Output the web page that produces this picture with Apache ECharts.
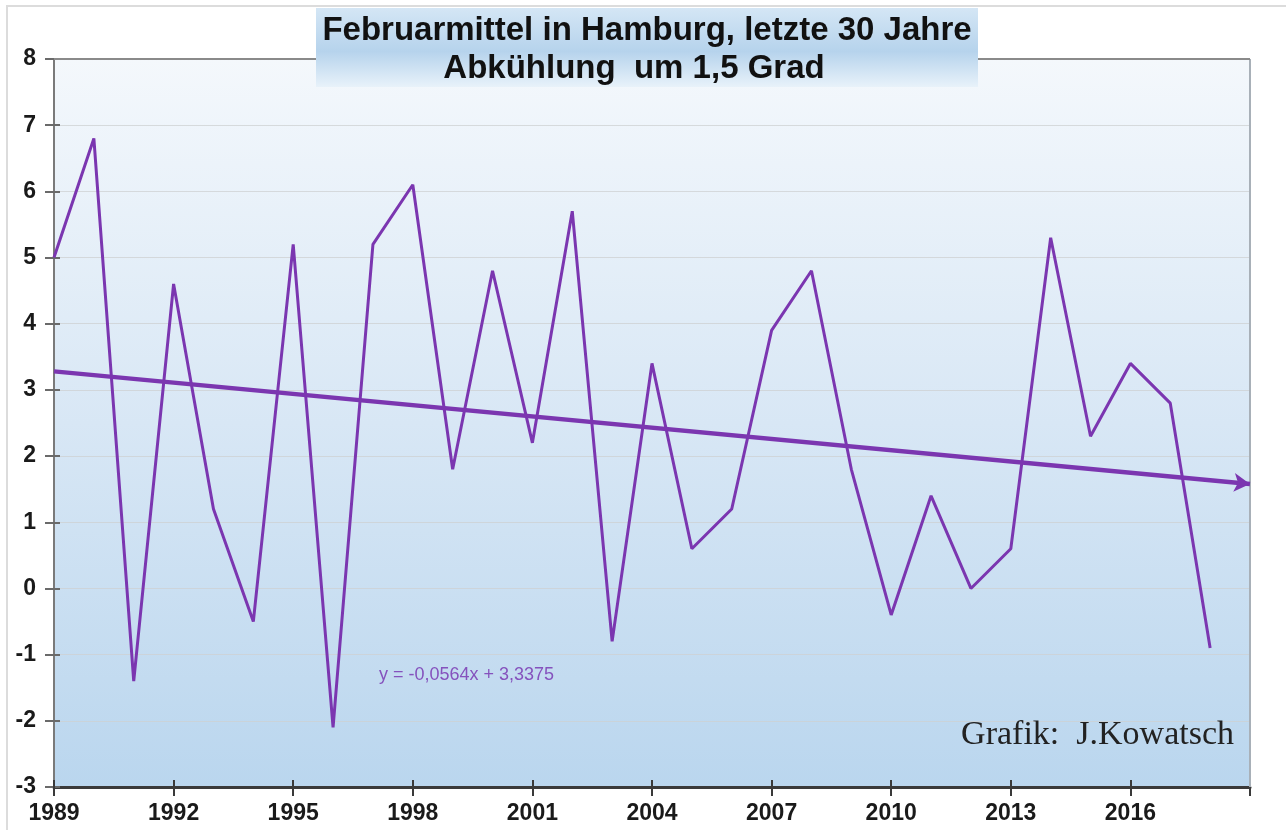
<!DOCTYPE html>
<html>
<head>
<meta charset="utf-8">
<script src="https://cdn.jsdelivr.net/npm/echarts@6/dist/echarts.min.js"></script>
<style>
html,body{margin:0;padding:0;background:#fff;}
#chart{width:1286px;height:830px;}
</style>
</head>
<body>
<div id="chart"></div>
<script>
// ---- data ----
const years = [1989,1990,1991,1992,1993,1994,1995,1996,1997,1998,1999,2000,2001,2002,2003,2004,2005,2006,2007,2008,2009,2010,2011,2012,2013,2014,2015,2016,2017,2018];
const februaryMean = [5.0,6.8,-1.4,4.6,1.2,-0.5,5.2,-2.1,5.2,6.1,1.8,4.8,2.2,5.7,-0.8,3.4,0.6,1.2,3.9,4.8,1.8,-0.4,1.4,0.0,0.6,5.3,2.3,3.4,2.8,-0.9];
const trendStart = [1989, 3.28];
const trendEnd = [2019, 1.58];
const titleLines = ['Februarmittel in Hamburg, letzte 30 Jahre', 'Abkühlung  um 1,5 Grad'];
const equationText = 'y = -0,0564x + 3,3375';
const creditText = 'Grafik:  J.Kowatsch';
const xMin = 1989, xMax = 2019, xStep = 3;
const yMin = -3, yMax = 8, yStep = 1;

const chart = echarts.init(document.getElementById('chart'));
const purple = '#7b36b0';
const labelFont = {fontFamily:'Liberation Sans, Arial, sans-serif', fontWeight:'bold', fontSize:23, color:'#1a1a1a'};

chart.setOption({
  animation:false,
  backgroundColor:'#ffffff',
  grid:{left:54, right:36, top:59, bottom:43, show:true, borderWidth:0,
    backgroundColor:{type:'linear',x:0,y:0,x2:0,y2:1,colorStops:[
      {offset:0,color:'#f4f8fc'},{offset:0.5,color:'#d8e7f5'},{offset:1,color:'#bad6ee'}]}},
  xAxis:[{
    type:'value', min:xMin, max:xMax, interval:xStep,
    axisLine:{show:true, onZero:false, lineStyle:{color:'#3a3a3a', width:3}},
    axisTick:{show:true, length:9, lineStyle:{color:'#3a3a3a', width:2}},
    axisLabel:Object.assign({margin:15, formatter:v => v === xMax ? '' : String(v)}, labelFont),
    splitLine:{show:false}
  },{
    type:'value', min:xMin, max:xMax, interval:xStep, position:'bottom',
    axisLine:{show:false, onZero:false}, axisLabel:{show:false}, splitLine:{show:false},
    axisTick:{show:true, inside:true, length:7, lineStyle:{color:'#3a3a3a', width:2}}
  }],
  yAxis:[{
    type:'value', min:yMin, max:yMax, interval:yStep,
    axisLine:{show:true, onZero:false, lineStyle:{color:'#7a7a7a', width:2}},
    axisTick:{show:true, length:9, lineStyle:{color:'#6a6a6a', width:2}},
    axisLabel:Object.assign({margin:18}, labelFont),
    splitLine:{show:true, lineStyle:{color:'rgba(205,208,210,0.75)', width:1}}
  },{
    type:'value', min:yMin, max:yMax, interval:yStep, position:'left',
    axisLine:{show:false, onZero:false}, axisLabel:{show:false}, splitLine:{show:false},
    axisTick:{show:true, inside:true, length:6, lineStyle:{color:'#6a6a6a', width:2}}
  }],
  series:[{
    type:'line', xAxisIndex:0, yAxisIndex:0,
    data: years.map((y,i)=>[y, februaryMean[i]]),
    symbol:'none', lineStyle:{color:purple, width:3}, z:3,
    markLine:{
      silent:true, symbol:['none','arrow'], symbolSize:[14,16],
      lineStyle:{color:purple, width:4.5, type:'solid'},
      label:{show:false},
      data:[[{coord:trendStart},{coord:trendEnd}]]
    }
  }],
  graphic:[
    {type:'line', shape:{x1:1250,y1:59,x2:1250,y2:787}, style:{stroke:'#a8b0b8', lineWidth:2}, z:5},
    {type:'line', shape:{x1:54,y1:59,x2:1250,y2:59}, style:{stroke:'#8a8a8a', lineWidth:2}, z:5},
    {type:'polyline', shape:{points:[[7,830],[7,6],[1286,6]]}, style:{stroke:'#dcdcdc', fill:null, lineWidth:2}, z:5},
    {type:'rect', shape:{x:316,y:8,width:662,height:79}, z:10,
      style:{fill:{type:'linear',x:0,y:0,x2:0,y2:1,colorStops:[
        {offset:0,color:'#d4e6f5'},{offset:0.55,color:'#b6d3ec'},{offset:1,color:'#e8f2fa'}]}}},
    {type:'text', x:647, y:31, z:11, style:{text:titleLines[0], textAlign:'center', textVerticalAlign:'middle',
      font:'bold 33px "Liberation Sans", Arial, sans-serif', fill:'#111'}},
    {type:'text', x:634, y:69, z:11, style:{text:titleLines[1], textAlign:'center', textVerticalAlign:'middle',
      font:'bold 33px "Liberation Sans", Arial, sans-serif', fill:'#111'}},
    {type:'text', x:379, y:675, z:11, style:{text:equationText, textAlign:'left', textVerticalAlign:'middle',
      font:'18px "Liberation Sans", Arial, sans-serif', fill:'#8552bd'}},
    {type:'text', x:1234, y:735, z:11, style:{text:creditText, textAlign:'right', textVerticalAlign:'middle',
      font:'34px "Liberation Serif", "Times New Roman", serif', fill:'#222'}}
  ]
});
</script>
</body>
</html>
